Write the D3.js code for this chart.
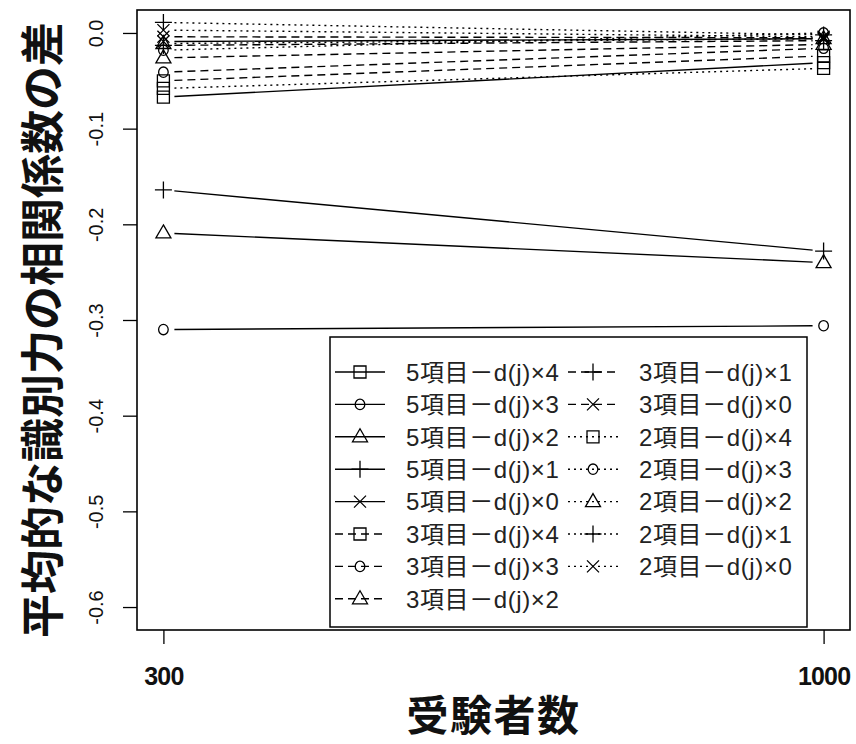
<!DOCTYPE html>
<html>
<head>
<meta charset="utf-8">
<script src="https://cdn.jsdelivr.net/npm/d3@7"></script>
<style>
  html, body { margin: 0; padding: 0; background: #fff; }
  svg { display: block; }
</style>
</head>
<body>
<svg id="chart" width="856" height="744"></svg>
<script>
const SIZES = [300, 1000];
const Y_TICKS = [0, -0.1, -0.2, -0.3, -0.4, -0.5, -0.6];
const ITEMS = ['5項目', '3項目', '2項目'];
const MULTS = [4, 3, 2, 1, 0];

// one value per series, order: 5項目 x4..x0, 3項目 x4..x0, 2項目 x4..x0
const AT_300 = [-0.067, -0.310, -0.209, -0.164, -0.009,
                -0.050, -0.041, -0.026, -0.013, -0.004,
                -0.058, -0.018, -0.011, 0.011, 0.003];
const AT_1000 = [-0.031, -0.306, -0.240, -0.228, -0.006,
                 -0.024, -0.016, -0.012, -0.008, -0.005,
                 -0.037, 0.000, -0.006, -0.002, -0.004];

const DASH = { '5項目': null, '3項目': '8,5', '2項目': '2,4' };
const SHAPE = { 4: 'square', 3: 'circle', 2: 'triangle', 1: 'plus', 0: 'times' };

const series = [];
ITEMS.forEach((item, i) => {
  MULTS.forEach((m, j) => {
    const k = i * MULTS.length + j;
    series.push({
      label: `${item}－d(j)×${m}`,
      dash: DASH[item],
      shape: SHAPE[m],
      values: [AT_300[k], AT_1000[k]],
    });
  });
});

const plot = { left: 137, right: 850, top: 10, bottom: 630 };
const svg = d3.select('#chart');

svg.append('rect').attr('width', 856).attr('height', 744).attr('fill', '#fff');

const x = d3.scaleLinear().domain([272, 1028]).range([plot.left, plot.right]);
const y = d3.scaleLinear().domain([-0.624, 0.024]).range([plot.bottom, plot.top]);

function markerPath(shape) {
  switch (shape) {
    case 'square': return 'M-6,-6H6V6H-6Z';
    case 'circle': return 'M4.8,0A4.8,5.2 0 1,1 -4.8,0A4.8,5.2 0 1,1 4.8,0Z';
    case 'triangle': return 'M0,-8L7.5,5H-7.5Z';
    case 'plus': return 'M-8.5,0H8.5M0,-8.5V8.5';
    default: return 'M-6,-6L6,6M-6,6L6,-6';
  }
}

// y axis
svg.append('g')
  .attr('transform', `translate(${plot.left},0)`)
  .call(d3.axisLeft(y).tickValues(Y_TICKS).tickSize(14).tickFormat(d => d.toFixed(1)))
  .call(a => a.select('.domain').remove())
  .call(a => a.selectAll('line').attr('stroke', '#000').attr('stroke-width', 1.3))
  .call(a => a.selectAll('text')
    .attr('x', null).attr('dy', null)
    .attr('transform', 'translate(-34,0) rotate(-90)')
    .attr('text-anchor', 'middle')
    .attr('fill', '#111')
    .attr('font-family', 'Liberation Sans, Arial, sans-serif')
    .attr('font-size', 20));

// x axis
svg.append('g')
  .attr('transform', `translate(0,${plot.bottom})`)
  .call(d3.axisBottom(x).tickValues(SIZES).tickSize(14).tickFormat(d => d))
  .call(a => a.select('.domain').remove())
  .call(a => a.selectAll('line').attr('stroke', '#000').attr('stroke-width', 1.3))
  .call(a => a.selectAll('text')
    .attr('y', 55).attr('dy', null)
    .attr('fill', '#111')
    .attr('font-family', 'Liberation Sans, Arial, sans-serif')
    .attr('font-weight', 700)
    .attr('font-size', 25)
    .attr('letter-spacing', -0.8));

// lines with gaps around the points (type = "b")
const GAP = 11;
const lineG = svg.append('g');
series.forEach(s => {
  const x0 = x(SIZES[0]), y0 = y(s.values[0]);
  const x1 = x(SIZES[1]), y1 = y(s.values[1]);
  const len = Math.hypot(x1 - x0, y1 - y0);
  const ux = (x1 - x0) / len, uy = (y1 - y0) / len;
  lineG.append('line')
    .attr('x1', x0 + ux * GAP).attr('y1', y0 + uy * GAP)
    .attr('x2', x1 - ux * GAP).attr('y2', y1 - uy * GAP)
    .attr('stroke', '#000')
    .attr('stroke-width', 1.4)
    .attr('stroke-dasharray', s.dash);
  SIZES.forEach((n, i) => {
    lineG.append('path')
      .attr('transform', `translate(${x(n)},${y(s.values[i])})`)
      .attr('d', markerPath(s.shape))
      .attr('fill', 'none')
      .attr('stroke', '#000')
      .attr('stroke-width', 1.3);
  });
});

// plot box
svg.append('rect')
  .attr('x', plot.left).attr('y', plot.top)
  .attr('width', plot.right - plot.left).attr('height', plot.bottom - plot.top)
  .attr('fill', 'none').attr('stroke', '#000').attr('stroke-width', 1.6);

// legend
const legend = svg.append('g');
legend.append('rect')
  .attr('x', 330).attr('y', 337).attr('width', 477).attr('height', 290)
  .attr('fill', '#fff').attr('stroke', '#000').attr('stroke-width', 1.5);

const ROW0 = 372, ROW_H = 32.4;
series.forEach((s, i) => {
  const col = i < 8 ? 0 : 1;
  const row = col === 0 ? i : i - 8;
  const cy = ROW0 + row * ROW_H;
  const cx = col === 0 ? 360 : 593;
  legend.append('line')
    .attr('x1', cx - 25).attr('x2', cx + 25)
    .attr('y1', cy).attr('y2', cy)
    .attr('stroke', '#000').attr('stroke-width', 1.4)
    .attr('stroke-dasharray', s.dash);
  legend.append('path')
    .attr('transform', `translate(${cx},${cy})`)
    .attr('d', markerPath(s.shape))
    .attr('fill', 'none').attr('stroke', '#000').attr('stroke-width', 1.3);
  legend.append('text')
    .attr('x', col === 0 ? 406 : 639)
    .attr('y', cy)
    .attr('dy', '0.37em')
    .attr('fill', '#222')
    .attr('font-family', 'Liberation Sans, Noto Sans CJK JP, sans-serif')
    .attr('font-size', 24)
    .attr('letter-spacing', 0.6)
    .text(s.label);
});

// axis titles
svg.append('text')
  .attr('x', (plot.left + plot.right) / 2)
  .attr('y', 731)
  .attr('text-anchor', 'middle')
  .attr('font-family', 'Noto Sans CJK JP, sans-serif')
  .attr('font-weight', 700)
  .attr('font-size', 42)
  .attr('letter-spacing', 1.5)
  .attr('fill', '#111')
  .text('受験者数');

svg.append('text')
  .attr('transform', 'translate(40,330) rotate(-90)')
  .attr('text-anchor', 'middle')
  .attr('dominant-baseline', 'central')
  .attr('font-family', 'Noto Sans CJK JP, sans-serif')
  .attr('font-weight', 700)
  .attr('font-size', 44)
  .attr('fill', '#111')
  .text('平均的な識別力の相関係数の差');
</script>
</body>
</html>
